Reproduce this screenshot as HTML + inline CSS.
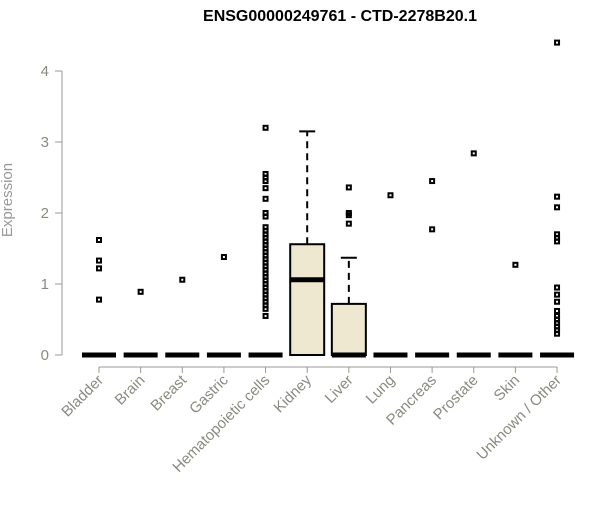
<!DOCTYPE html>
<html><head><meta charset="utf-8"><style>
body{margin:0;background:#fff}
svg text{font-family:"Liberation Sans",Arial,sans-serif}
</style></head><body>
<svg id="c" width="600" height="500" xmlns="http://www.w3.org/2000/svg">
<text x="340" y="21" text-anchor="middle" font-size="16" font-weight="bold">ENSG00000249761 - CTD-2278B20.1</text>
<text transform="translate(12,200) rotate(-90)" text-anchor="middle" font-size="15" fill="#999">Expression</text>
<g id="g"></g>
</svg>
<script>
const categories=["Bladder","Brain","Breast","Gastric","Hematopoietic cells","Kidney","Liver","Lung","Pancreas","Prostate","Skin","Unknown / Other"];
const q1=[0,0,0,0,0,0,0,0,0,0,0,0];
const medians=[0,0,0,0,0,1.06,0,0,0,0,0,0];
const q3=[0,0,0,0,0,1.56,0.72,0,0,0,0,0];
const whiskerHigh=[0,0,0,0,0,3.15,1.37,0,0,0,0,0];
const outliers=[[1.62,1.33,1.22,0.78],[0.89],[1.06],[1.38],
[3.2,2.55,2.5,2.45,2.35,2.2,2.0,1.95,1.8,1.75,1.7,1.65,1.6,1.55,1.5,1.45,1.4,1.35,1.3,1.25,1.2,1.15,1.1,1.05,1.0,0.95,0.9,0.85,0.8,0.75,0.7,0.65,0.55],
[],[2.36,2.0,1.97,1.85],[2.25],[2.45,1.77],[2.84],[1.27],
[4.4,2.23,2.08,1.7,1.65,1.6,0.95,0.85,0.75,0.62,0.55,0.5,0.45,0.4,0.35,0.3]];
const yTicks=[0,1,2,3,4];
const ns="http://www.w3.org/2000/svg",g=document.getElementById('g');
const y=v=>355-v*71, x=i=>99+i*41.64;
function mk(t,a){const e=document.createElementNS(ns,t);for(const k in a)e.setAttribute(k,a[k]);g.appendChild(e);return e;}
let e=mk('line',{x1:62,x2:62,y1:y(4),y2:y(0),stroke:'#999'});


yTicks.forEach(t=>{let l=mk('line',{x1:55,x2:62,y1:y(t),y2:y(t),stroke:'#999'});


let s=mk('text',{x:49,y:y(t)+5,'text-anchor':'end','font-size':15,fill:'#8a8a80'});s.textContent=t;

});
e=mk('line',{x1:x(0),x2:x(11),y1:367,y2:367,stroke:'#999'});


categories.forEach((c,i)=>{const cx=x(i),w=17;
let t=mk('line',{x1:cx,x2:cx,y1:367,y2:373,stroke:'#999'});


let s=mk('text',{x:0,y:0,'text-anchor':'end','font-size':15,fill:'#8a8a80',transform:`translate(${cx+5},${381}) rotate(-45)`});s.textContent=c;


if(whiskerHigh[i]>q3[i]){let wl=mk('line',{x1:cx,x2:cx,y1:y(q3[i]),y2:y(whiskerHigh[i]),stroke:'#000','stroke-width':2,'stroke-dasharray':'7,5'});


let cap=mk('line',{x1:cx-8,x2:cx+8,y1:y(whiskerHigh[i]),y2:y(whiskerHigh[i]),stroke:'#000','stroke-width':2});

}
if(q3[i]>q1[i]){let b=mk('rect',{x:cx-w,y:y(q3[i]),width:2*w,height:y(q1[i])-y(q3[i]),fill:'#ede8cf',stroke:'#000','stroke-width':2});

}
let m=mk('line',{x1:cx-w,x2:cx+w,y1:y(medians[i]),y2:y(medians[i]),stroke:'#000','stroke-width':5});


outliers[i].forEach(v=>{let p=mk('rect',{x:cx-2,y:y(v)-2,width:4,height:4,fill:'none',stroke:'#000','stroke-width':2});

});
});
</script>
</body></html>
